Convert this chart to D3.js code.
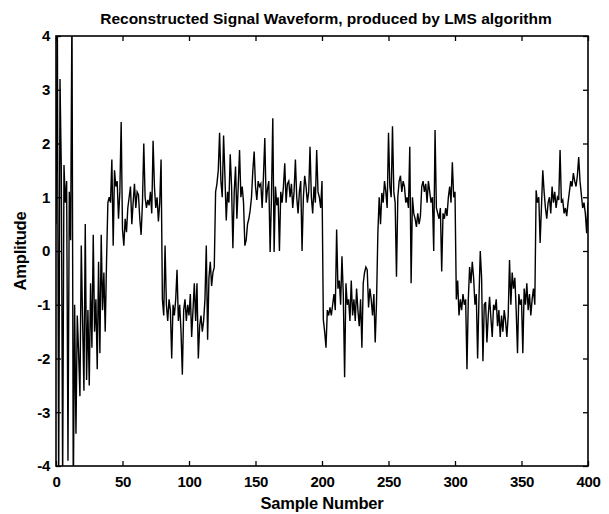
<!DOCTYPE html>
<html>
<head>
<meta charset="utf-8">
<script src="https://cdn.jsdelivr.net/npm/d3@7"></script>
<style>
  html, body { margin: 0; padding: 0; background: #fff; }
  svg { display: block; }
  text { font-family: "Liberation Sans", Arial, Helvetica, sans-serif; fill: #000; }
</style>
</head>
<body>
<svg id="chart" width="609" height="514"></svg>
<script>
// Reconstructed signal: one value per sample (n = 0..400)
const amplitude = [
  // 0-39: adaptation transient
  0.5, 4.4, -4.6, 3.2, 1.5, -4.3, 1.6, 0.9, 1.3, -3.9,
  1.1, 0.2, 4.6, -4.6, -1.0, -3.4, -1.2, -1.9, -2.7, 0.1,
  -1.3, -2.6, 0.5, -2.4, -1.1, -2.5, -0.6, -1.8, 0.3, -1.5,
  -0.9, -2.2, -0.2, -1.9, 0.3, -1.1, -0.4, -1.5, -0.2, 0.9,
  // 40-79
  1.0, 0.9, 1.7, 0.1, 1.5, 1.2, 1.3, 0.6, 1.1, 2.4,
  0.4, 0.1, 0.6, 0.35, 0.8, 1.0, 1.2, 0.5, 0.9, 1.25,
  0.8, 1.1, 1.05, 0.6, 0.3, 0.9, 2.0, 1.0, 0.8, 0.95,
  0.85, 1.1, 0.7, 2.05, 1.2, 0.8, 1.0, 0.55, 0.9, 1.7,
  // 80-119
  -0.9, -1.2, 0.1, -1.0, -1.3, -0.9, -1.1, -2.0, -1.0, -1.2,
  -0.9, -0.35, -1.3, -1.0, -1.5, -2.3, -1.1, -0.9, -1.3, -1.0,
  -1.2, -0.8, -1.6, -1.1, -0.6, -1.3, -0.6, -2.0, -1.4, -1.2,
  -1.5, -1.3, -0.9, 0.1, -1.65, -0.5, -0.2, -0.65, -0.4, -0.3,
  // 120-199
  1.1, 1.25, 1.5, 2.2, 1.3, 1.0, 2.15, 1.4, 0.57, 1.1,
  0.9, 1.8, 1.2, 0.05, 1.1, 1.57, 0.6, 1.2, 1.88, 1.0,
  1.2, 0.9, 0.1, 0.2, 0.5, 0.6, 0.76, 1.0, 1.5, 1.85,
  1.2, 0.95, 1.3, 1.2, 1.25, 0.8, 1.4, 2.1, 0.9, 1.15,
  1.3, -0.02, 1.0, 2.47, -0.02, 1.2, 0.85, 1.0, 0.0, 1.1,
  0.9, 1.2, 1.63, 0.9, 1.25, 1.3, 1.0, 1.25, 0.8, 1.1,
  1.7, 1.0, 0.7, 1.1, 1.3, 0.0, 1.0, 1.4, 1.2, 0.9,
  1.1, 1.94, 1.0, 0.7, 1.2, 0.9, 1.88, 1.1, 1.0, 0.8,
  // 200-239
  1.3, -1.28, -1.5, -1.8, -1.1, -1.2, -1.05, -1.2, -1.0, -0.8,
  -1.1, 0.4, -0.7, -0.55, -1.0, -0.1, -0.8, -2.35, -0.6, -1.0,
  -0.9, -1.3, -0.55, -1.2, -0.9, -1.3, -0.7, -1.1, -1.4, -0.9,
  -1.8, -0.6, -0.4, -0.3, -0.35, -1.05, -0.7, -0.9, -1.2, -0.8,
  // 240-299
  -1.7, -0.95, 0.33, 1.0, 0.5, 1.08, 0.9, 1.3, 1.1, 0.8,
  2.2, 1.2, 1.0, 2.32, 1.1, 0.9, -0.48, 1.0, 1.3, 1.4,
  1.1, 1.3, 1.2, 0.9, 1.0, 0.8, 1.94, -0.6, 1.0, 0.7,
  0.6, 0.45, 0.7, 0.5, 0.65, 1.2, 1.3, 1.1, 1.25, 0.9,
  1.3, 1.1, 0.9, 1.0, 0.0, 2.25, 0.8, 0.7, 0.6, 0.8,
  -0.38, 0.7, 0.6, 0.8, 0.65, 1.0, 1.2, 0.9, 1.65, 1.0,
  // 300-359
  1.1, -0.9, -0.55, -1.2, -0.9, -1.1, -0.8, -1.0, -0.9, -2.2,
  -0.9, -0.3, -0.6, -0.2, -0.5, -1.0, -0.8, -2.0, -0.9, 0.0,
  -0.5, -2.05, -1.0, -0.95, -1.7, -1.2, -0.85, -1.25, -1.6, -1.0,
  -1.1, -0.9, -1.4, -1.1, -1.6, -1.2, -1.5, -1.1, -1.3, -1.6,
  -1.2, -0.17, -1.0, -0.4, -0.7, -0.5, -1.1, -1.9, -0.8, -1.0,
  -0.9, -1.9, -0.7, -1.0, -0.6, -1.1, -0.8, -1.2, -0.9, -0.7,
  // 360-400
  -1.0, 1.13, 0.9, 1.0, 0.15, 0.82, 1.5, 1.1, 0.8, 0.6,
  0.9, 1.0, 0.7, 1.2, 0.9, 1.1, 0.8, 1.0, 0.95, 1.88,
  0.9, 0.95, 0.7, 0.8, 0.65, 0.9, 1.1, 1.3, 1.2, 1.45,
  1.3, 1.2, 1.4, 1.75, 1.3, 1.05, 0.8, 0.9, 0.7, 0.33,
  0.9
];
const sampleIndex = amplitude.map((_, i) => i);

const xTicks = [0, 50, 100, 150, 200, 250, 300, 350, 400];
const yTicks = [-4, -3, -2, -1, 0, 1, 2, 3, 4];

const titleText = "Reconstructed Signal Waveform, produced by LMS algorithm";
const xLabelText = "Sample Number";
const yLabelText = "Amplitude";

const svg = d3.select("#chart");
const margin = { left: 56, right: 21, top: 36, bottom: 48 };
const W = 609, H = 514;
const plotW = W - margin.left - margin.right;
const plotH = H - margin.top - margin.bottom;

const x = d3.scaleLinear().domain([0, 400]).range([margin.left, margin.left + plotW]);
const y = d3.scaleLinear().domain([-4, 4]).range([margin.top + plotH, margin.top]);

svg.append("defs").append("clipPath").attr("id", "plotClip")
  .append("rect")
  .attr("x", margin.left).attr("y", margin.top)
  .attr("width", plotW).attr("height", plotH);

// waveform
const line = d3.line()
  .x(i => x(sampleIndex[i]))
  .y(i => y(amplitude[i]));

svg.append("path")
  .attr("clip-path", "url(#plotClip)")
  .attr("d", line(sampleIndex))
  .attr("fill", "none")
  .attr("stroke", "#000")
  .attr("stroke-width", 1.4)
  .attr("stroke-linejoin", "miter");

// axes with inward ticks on all four sides
const fmt = d => String(d);
const tick = 5;

const gLeft = svg.append("g").attr("transform", `translate(${margin.left},0)`)
  .call(d3.axisLeft(y).tickValues(yTicks).tickFormat(fmt).tickSize(-tick).tickPadding(6));
const gBottom = svg.append("g").attr("transform", `translate(0,${margin.top + plotH})`)
  .call(d3.axisBottom(x).tickValues(xTicks).tickFormat(fmt).tickSize(-tick).tickPadding(10));
const gRight = svg.append("g").attr("transform", `translate(${margin.left + plotW},0)`)
  .call(d3.axisRight(y).tickValues(yTicks).tickFormat("").tickSize(-tick));
const gTop = svg.append("g").attr("transform", `translate(0,${margin.top})`)
  .call(d3.axisTop(x).tickValues(xTicks).tickFormat("").tickSize(-tick));

[gLeft, gBottom, gRight, gTop].forEach(g => {
  g.select(".domain").remove();
  g.selectAll(".tick line").attr("stroke", "#000").attr("stroke-width", 1.3);
  g.selectAll(".tick text")
    .style("font-family", '"Liberation Sans", Arial, sans-serif')
    .style("font-size", "15px")
    .style("font-weight", "bold")
    .style("letter-spacing", "-0.3px")
    .attr("fill", "#000");
});

// frame
svg.append("rect")
  .attr("x", margin.left).attr("y", margin.top)
  .attr("width", plotW).attr("height", plotH)
  .attr("fill", "none").attr("stroke", "#000").attr("stroke-width", 1.6);

// title and axis labels
svg.append("text")
  .attr("x", margin.left + plotW / 2 + 4).attr("y", 24)
  .attr("text-anchor", "middle")
  .style("font-size", "15.5px").style("font-weight", "bold")
  .text(titleText);

svg.append("text")
  .attr("x", margin.left + plotW / 2).attr("y", 509)
  .attr("text-anchor", "middle")
  .style("font-size", "16.5px").style("font-weight", "bold")
  .style("letter-spacing", "-0.2px")
  .text(xLabelText);

svg.append("text")
  .attr("transform", `translate(26,${margin.top + plotH / 2}) rotate(-90)`)
  .attr("text-anchor", "middle")
  .style("font-size", "16.5px").style("font-weight", "bold")
  .style("letter-spacing", "-0.2px")
  .text(yLabelText);
</script>
</body>
</html>
